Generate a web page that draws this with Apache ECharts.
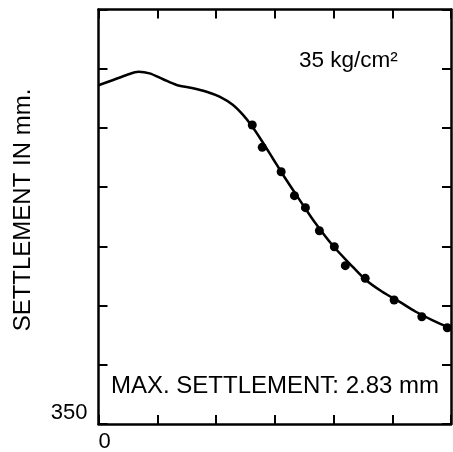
<!DOCTYPE html>
<html>
<head>
<meta charset="utf-8">
<script src="https://cdn.jsdelivr.net/npm/echarts@6/dist/echarts.min.js"></script>
<style>
  html, body { margin: 0; padding: 0; background: #fff; }
  #chart { width: 453px; height: 452px; }
</style>
</head>
<body>
<div id="chart"></div>
<script>
// fitted curve
const curveX = [0, 2.5, 4.8, 6.8, 8.7, 11.0, 13.3, 16.1, 18.4, 20.6, 22.9, 24.6, 26.1, 27.7, 29.7, 31.4, 34.2, 37.0, 39.9, 42.7, 45.5, 48.3, 51.2, 54.0, 56.8, 60.0];
const curveY = [378.6, 379.05, 379.47, 379.75, 379.61, 379.11, 378.63, 378.35, 378.06, 377.64, 376.94, 376.10, 375.16, 373.98, 372.4, 371.05, 368.95, 366.9, 365.05, 363.57, 362.16, 361.17, 360.33, 359.48, 358.78, 358.08];
// measured points
const pointX = [26.17, 27.87, 31.09, 33.35, 35.22, 37.60, 40.14, 42.01, 45.40, 50.32, 55.03, 59.37];
const pointY = [375.25, 373.36, 371.30, 369.28, 368.27, 366.32, 364.97, 363.37, 362.30, 360.47, 359.06, 358.13];
// axis labels shown
const xTickLabels = ["0"];
const yTickLabels = ["350"];

const font = "Liberation Sans, Arial, sans-serif";
const chart = echarts.init(document.getElementById("chart"));

const frameTick = { show: true, inside: true, length: 9, lineStyle: { color: "#000", width: 2 } };
const frameLine = { show: true, onZero: false, lineStyle: { color: "#000", width: 2.5 } };

chart.setOption({
  animation: false,
  grid: { left: 98.5, right: 2, top: 9.5, bottom: 28, containLabel: false, outerBoundsMode: "none" },
  xAxis: [
    {
      type: "value", min: 0, max: 60, interval: 10, position: "bottom",
      axisLine: frameLine, axisTick: frameTick, splitLine: { show: false },
      axisLabel: {
        color: "#000", fontSize: 22, fontFamily: font, margin: 7, align: "left",
        formatter: (v) => (xTickLabels.includes(String(v)) ? String(v) : ""),
      },
    },
    {
      type: "value", min: 0, max: 60, interval: 10, position: "top",
      axisLine: frameLine, axisTick: frameTick, splitLine: { show: false },
      axisLabel: { show: false },
    },
  ],
  yAxis: [
    {
      type: "value", min: 350, max: 385, interval: 5, position: "left",
      axisLine: frameLine, axisTick: frameTick, splitLine: { show: false },
      axisLabel: {
        color: "#000", fontSize: 22, fontFamily: font, margin: 11, verticalAlign: "bottom",
        formatter: (v) => (yTickLabels.includes(String(v)) ? String(v) : ""),
      },
    },
    {
      type: "value", min: 350, max: 385, interval: 5, position: "right",
      axisLine: frameLine, axisTick: frameTick, splitLine: { show: false },
      axisLabel: { show: false },
    },
  ],
  graphic: [
    {
      type: "text", x: 23, y: 210, rotation: Math.PI / 2,
      style: { text: "SETTLEMENT IN mm.", font: "24px " + font, fill: "#000", align: "center", verticalAlign: "middle" },
    },
    {
      type: "text", x: 299, y: 61,
      style: { text: "35 kg/cm²", font: "22.5px " + font, fill: "#000", align: "left", verticalAlign: "middle" },
    },
    {
      type: "text", x: 111, y: 386,
      style: { text: "MAX. SETTLEMENT: 2.83 mm", font: "24px " + font, fill: "#000", align: "left", verticalAlign: "middle" },
    },
  ],
  series: [
    {
      type: "line", smooth: 0.3, showSymbol: false,
      data: curveX.map((x, i) => [x, curveY[i]]),
      lineStyle: { color: "#000", width: 2.5 },
    },
    {
      type: "scatter", symbol: "circle", symbolSize: 9,
      data: pointX.map((x, i) => [x, pointY[i]]),
      itemStyle: { color: "#000", opacity: 1 },
    },
  ],
});
</script>
</body>
</html>
